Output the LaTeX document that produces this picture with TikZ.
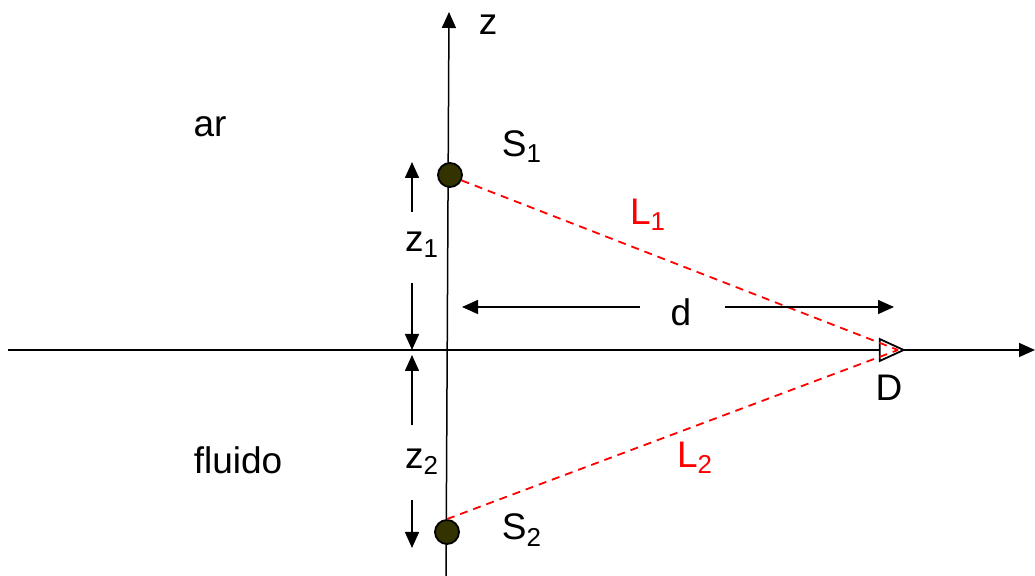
\documentclass[tikz,border=0pt]{standalone}
\usepackage{fontspec}
\setmainfont{Liberation Sans}
\usetikzlibrary{arrows.meta,positioning,calc,shapes.geometric}
\definecolor{src}{HTML}{333300}
\definecolor{ray}{HTML}{FF0000}

\begin{document}
\begin{tikzpicture}[
  x=0.5pt, y=-0.5pt,
  font=\fontsize{18.5}{22}\selectfont, >={Triangle[length=8pt,width=7pt]},
  axis/.style={->, line width=0.75pt},
  dim/.style={->, line width=0.75pt},
  source/.style={circle, draw=black, line width=0.9pt, fill=src, minimum size=12pt, inner sep=0pt},
  detector/.style={draw, line width=0.9pt, fill=white, isosceles triangle, isosceles triangle stretches, minimum width=11pt, minimum height=12pt, inner sep=0pt},
  path/.style={dash pattern=on 4pt off 3pt, draw=ray, line width=0.9pt},
  lbl/.style={inner sep=0pt},
  rlbl/.style={inner sep=0pt, text=ray},
]
\useasboundingbox (0,0) rectangle (1035,576);
% axes
\coordinate (zbot) at (446,576);
\coordinate (ztop) at (449,12);
\coordinate (xl) at (8,350);
\coordinate (xr) at (1035,350);
\draw[axis] (zbot) -- (ztop);
\draw[axis] (xl) -- (xr);
\node[lbl] (zlab) at (488,25) {z};
% media
\node[lbl] (air) at (210,127) {ar};
\node[lbl] (fluid) at (238,460) {fluido};
% sources and detector
\node[source] (s1) at (450,175) {};
\node[source] (s2) at (447,532) {};
\node[lbl] (s1lab) at (522,147) {S\textsubscript{1}};
\node[lbl] (s2lab) at (522,530) {S\textsubscript{2}};
\node[detector, anchor=apex] (det) at (906,350) {};
\node[lbl] (dlab) at (889,388) {D};
% paths
\draw[path] (s1.-25) -- ([xshift=-4]det.apex);
\draw[path] (s2.90) -- ([xshift=-4]det.apex);
\node[rlbl] (l1) at (648,215) {L\textsubscript{1}};
\node[rlbl] (l2) at (695,458) {L\textsubscript{2}};
% depths
\node[lbl] (z1) at (422,245) {z\textsubscript{1}};
\node[lbl] (z2) at (422,462) {z\textsubscript{2}};
\coordinate (z1top) at (412,162);
\coordinate (z1a) at (412,212);
\coordinate (z1b) at (412,283);
\coordinate (zmid) at (412,350);
\coordinate (z2a) at (412,425);
\coordinate (z2top) at (412,355);
\coordinate (z2b) at (412,500);
\coordinate (z2bot) at (412,548);
\draw[dim] (z1a) -- (z1top);
\draw[dim] (z1b) -- (zmid);
\draw[dim] (z2a) -- (z2top);
\draw[dim] (z2b) -- (z2bot);
% distance
\node[lbl] (d) at (681,312) {d};
\coordinate (dla) at (640,307);
\coordinate (dl) at (462,307);
\coordinate (dra) at (725,307);
\coordinate (dr) at (894,307);
\draw[dim] (dla) -- (dl);
\draw[dim] (dra) -- (dr);
\end{tikzpicture}
\end{document}
